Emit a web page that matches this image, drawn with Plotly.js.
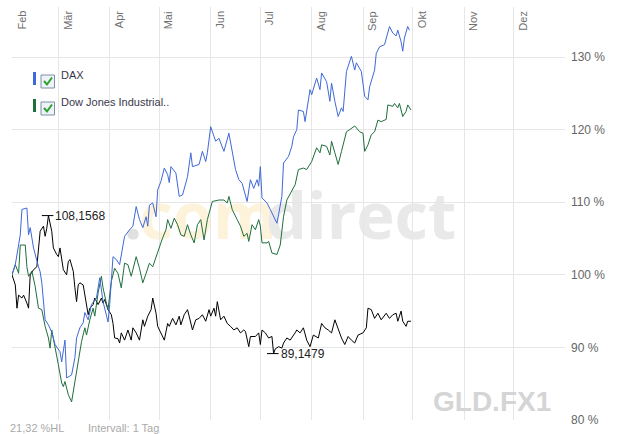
<!DOCTYPE html>
<html>
<head>
<meta charset="utf-8">
<script src="https://cdn.plot.ly/plotly-3.0.1.min.js"></script>
<style>html,body{margin:0;padding:0;background:#fff;}#chart{width:625px;height:434px;}</style>
</head>
<body>
<div id="chart"></div>
<script>
// ---------- DATA ----------
const monthLabels = ["Feb","Mär","Apr","Mai","Jun","Jul","Aug","Sep","Okt","Nov","Dez"];
const monthStarts = ["2003-02-01","2003-03-01","2003-04-01","2003-05-01","2003-06-01","2003-07-01","2003-08-01","2003-09-01","2003-10-01","2003-11-01","2003-12-01"];
const yTicks = [80, 90, 100, 110, 120, 130];

const daxDates = ["2003-02-01","2003-02-03","2003-02-06","2003-02-07","2003-02-10","2003-02-11","2003-02-12","2003-02-14","2003-02-17","2003-02-18","2003-02-19","2003-02-21","2003-02-23","2003-02-25","2003-02-27","2003-03-02","2003-03-03","2003-03-05","2003-03-06","2003-03-09","2003-03-11","2003-03-12","2003-03-14","2003-03-16","2003-03-17","2003-03-19","2003-03-21","2003-03-24","2003-03-26","2003-03-28","2003-03-31","2003-04-01","2003-04-03","2003-04-05","2003-04-07","2003-04-09","2003-04-10","2003-04-13","2003-04-15","2003-04-17","2003-04-19","2003-04-21","2003-04-23","2003-04-24","2003-04-25","2003-04-27","2003-04-29","2003-04-30","2003-05-02","2003-05-04","2003-05-06","2003-05-07","2003-05-08","2003-05-11","2003-05-13","2003-05-15","2003-05-18","2003-05-20","2003-05-21","2003-05-25","2003-05-27","2003-05-29","2003-05-30","2003-06-01","2003-06-04","2003-06-06","2003-06-09","2003-06-12","2003-06-14","2003-06-16","2003-06-18","2003-06-20","2003-06-23","2003-06-25","2003-06-27","2003-06-29","2003-06-30","2003-07-01","2003-07-02","2003-07-05","2003-07-07","2003-07-09","2003-07-11","2003-07-12","2003-07-14","2003-07-15","2003-07-18","2003-07-20","2003-07-21","2003-07-23","2003-07-24","2003-07-27","2003-07-28","2003-07-31","2003-08-01","2003-08-04","2003-08-06","2003-08-07","2003-08-10","2003-08-12","2003-08-13","2003-08-15","2003-08-17","2003-08-19","2003-08-20","2003-08-22","2003-08-25","2003-08-27","2003-08-28","2003-08-31","2003-09-02","2003-09-04","2003-09-05","2003-09-08","2003-09-09","2003-09-11","2003-09-14","2003-09-17","2003-09-19","2003-09-21","2003-09-22","2003-09-24","2003-09-25","2003-09-26","2003-09-28","2003-09-29"];
const daxValues = [100,101.4,105.5,109,109.2,105.5,106.5,103.7,101.1,100.4,98.9,93.8,93.1,92.1,90.4,89.4,88,91,85.8,86.2,88.6,91.3,92.7,93.4,94.8,93.8,95.9,96.8,99.6,96.3,93.5,95.9,102.5,102.1,101.4,104.4,105.3,106.2,106.7,109.4,107.6,106.5,108,106.7,109.6,109.9,108,111.7,112.9,114.7,113.8,112.7,114.9,114,110.8,111,113.5,116.8,114.9,115.2,117,115.6,116.8,120.4,118.4,118.8,117,119.5,116.8,114.5,113.1,112.6,110.1,113.1,111.9,113.1,112.2,114.9,110.6,109.9,109,108,107.1,108.3,110.8,115.4,116.3,117.7,119,120,122.7,122.5,121.1,125.5,124.8,127.1,125.5,127.8,126.6,123.9,126.4,123.9,121.8,123,122.5,128,130.1,128.2,129.2,128,124.6,124.1,125.9,128.2,130.5,131.4,131.7,134.2,133.3,132.9,133.7,132.1,130.8,132.6,134.2,133.7];

const dowDates = ["2003-02-01","2003-02-03","2003-02-05","2003-02-06","2003-02-09","2003-02-10","2003-02-11","2003-02-13","2003-02-15","2003-02-17","2003-02-19","2003-02-21","2003-02-23","2003-02-24","2003-02-25","2003-02-27","2003-03-01","2003-03-03","2003-03-04","2003-03-05","2003-03-07","2003-03-09","2003-03-11","2003-03-13","2003-03-15","2003-03-17","2003-03-18","2003-03-20","2003-03-22","2003-03-23","2003-03-25","2003-03-27","2003-03-28","2003-03-30","2003-03-31","2003-04-02","2003-04-04","2003-04-06","2003-04-08","2003-04-10","2003-04-12","2003-04-14","2003-04-17","2003-04-19","2003-04-21","2003-04-23","2003-04-25","2003-04-27","2003-04-29","2003-05-01","2003-05-03","2003-05-05","2003-05-06","2003-05-08","2003-05-10","2003-05-12","2003-05-14","2003-05-16","2003-05-18","2003-05-20","2003-05-22","2003-05-24","2003-05-26","2003-05-28","2003-05-30","2003-06-02","2003-06-06","2003-06-09","2003-06-11","2003-06-12","2003-06-14","2003-06-17","2003-06-19","2003-06-21","2003-06-23","2003-06-24","2003-06-26","2003-06-28","2003-06-30","2003-07-01","2003-07-02","2003-07-05","2003-07-06","2003-07-08","2003-07-10","2003-07-11","2003-07-13","2003-07-15","2003-07-17","2003-07-20","2003-07-22","2003-07-24","2003-07-27","2003-07-29","2003-08-01","2003-08-04","2003-08-06","2003-08-07","2003-08-10","2003-08-12","2003-08-13","2003-08-15","2003-08-17","2003-08-19","2003-08-22","2003-08-24","2003-08-27","2003-08-30","2003-09-01","2003-09-02","2003-09-04","2003-09-06","2003-09-08","2003-09-10","2003-09-12","2003-09-15","2003-09-16","2003-09-19","2003-09-20","2003-09-22","2003-09-23","2003-09-25","2003-09-27","2003-09-28","2003-09-30"];
const dowValues = [100,101.4,100.2,104.1,104.1,101.1,99.8,100.5,98.4,95.4,95.2,92.9,91.3,89.9,92.4,89.7,87.6,85.1,84.6,85.3,83.5,82.5,85.3,88.5,90.8,92.7,91.7,93.8,95.4,94.3,97.5,99.8,98.2,96.1,95.2,99.1,100.9,100.2,98.2,101.6,101.4,99.8,102.5,100.9,98.9,100.2,101.6,101.1,102.5,103.7,105.1,106.2,107.6,106.4,107.8,106.9,105.5,105.3,106.9,105.5,104.4,106.9,107.6,104.8,107.6,110.1,110.3,110.3,109.9,110.8,109,107.6,106.7,105.3,105.7,104.6,106.9,106.2,107.6,106.7,104.4,104.4,104.6,103,102.8,102.8,104.1,108,110.3,111.7,112.4,114.5,114.7,114.5,115.6,117.5,116.8,117.9,117.7,116.5,118.4,116.8,115.2,117,119.7,120,120.5,119.7,119.5,117,117.9,119.3,119.7,121.3,121.1,121.4,123.4,123.2,123.6,123,123.6,121.8,122.5,123.4,122.7];

const gldDates = ["2003-02-01","2003-02-03","2003-02-04","2003-02-05","2003-02-07","2003-02-08","2003-02-10","2003-02-11","2003-02-12","2003-02-14","2003-02-16","2003-02-17","2003-02-18","2003-02-20","2003-02-21","2003-02-22","2003-02-23","2003-02-25","2003-02-26","2003-02-28","2003-03-01","2003-03-02","2003-03-04","2003-03-06","2003-03-07","2003-03-08","2003-03-10","2003-03-11","2003-03-12","2003-03-13","2003-03-14","2003-03-16","2003-03-17","2003-03-18","2003-03-19","2003-03-20","2003-03-22","2003-03-23","2003-03-25","2003-03-27","2003-03-28","2003-03-29","2003-03-31","2003-04-02","2003-04-03","2003-04-04","2003-04-06","2003-04-07","2003-04-08","2003-04-10","2003-04-12","2003-04-14","2003-04-15","2003-04-17","2003-04-19","2003-04-21","2003-04-22","2003-04-24","2003-04-26","2003-04-27","2003-04-29","2003-04-30","2003-05-02","2003-05-04","2003-05-06","2003-05-07","2003-05-09","2003-05-11","2003-05-13","2003-05-14","2003-05-16","2003-05-18","2003-05-19","2003-05-21","2003-05-23","2003-05-25","2003-05-27","2003-05-29","2003-05-31","2003-06-01","2003-06-03","2003-06-04","2003-06-05","2003-06-07","2003-06-09","2003-06-11","2003-06-13","2003-06-15","2003-06-17","2003-06-19","2003-06-21","2003-06-22","2003-06-24","2003-06-25","2003-06-28","2003-06-30","2003-07-01","2003-07-02","2003-07-04","2003-07-06","2003-07-08","2003-07-09","2003-07-10","2003-07-12","2003-07-14","2003-07-15","2003-07-17","2003-07-19","2003-07-22","2003-07-23","2003-07-25","2003-07-27","2003-07-29","2003-07-31","2003-08-02","2003-08-05","2003-08-07","2003-08-09","2003-08-11","2003-08-13","2003-08-15","2003-08-17","2003-08-19","2003-08-21","2003-08-23","2003-08-25","2003-08-27","2003-08-29","2003-09-01","2003-09-03","2003-09-04","2003-09-06","2003-09-08","2003-09-10","2003-09-12","2003-09-15","2003-09-17","2003-09-19","2003-09-21","2003-09-22","2003-09-24","2003-09-25","2003-09-27","2003-09-28","2003-09-30"];
const gldValues = [100,98.6,95.4,97.2,96.8,97.2,96.1,95.4,100,100.7,101.1,103.7,106,106.7,105.3,106.4,108.1568,106,103.7,102.8,102.5,103.7,100.7,100,101.8,102.1,100.5,98.2,96.3,98.6,98.9,98.6,97.2,95.6,94.5,95.4,95.9,96.8,95.9,96.8,96.1,96.6,95.2,94.5,93.3,91.3,91.2,90.6,92,91,92.4,91,92.7,92,91,93.8,92.9,94.3,95.2,96.8,94.7,92.9,92,91,93.3,92.9,94,93.1,94.3,93.1,94.5,95.2,94.3,92.4,93.8,94,94.5,93.6,95.2,94.3,95.4,94.3,96.3,93.8,94.3,93.3,92.9,92.4,92.7,92,92.4,92.2,90.1,91.5,91.5,92,90.4,92.4,92,91.3,91.5,89.1479,89.8,90.1,89.9,90.6,91.3,91,92,92.4,92,92.7,91,90.1,91.7,91.3,93.3,92.7,92.4,92,93.8,92.4,91.3,90.4,91.5,91,90.6,91.7,92,92.7,95.4,95.2,94,94.7,93.8,94.7,94,94.5,94.7,93.6,95,93.6,92.9,93.6,93.6];

// ---------- LAYOUT HELPERS (pixel -> paper) ----------
const M = {l:12, r:60, t:7, b:14};
const PW = 625 - M.l - M.r, PH = 434 - M.t - M.b;
const PX = x => (x - M.l) / PW;
const PY = y => (434 - M.b - y) / PH;

const traces = [
  {x: gldDates, y: gldValues, type:'scatter', mode:'lines', name:'GLD.FX1', line:{color:'#000000', width:1}},
  {x: dowDates, y: dowValues, type:'scatter', mode:'lines', name:'Dow Jones Industrial..', line:{color:'#1f6e3c', width:1}},
  {x: daxDates, y: daxValues, type:'scatter', mode:'lines', name:'DAX', line:{color:'#3f68d8', width:1}}
];

const annotations = [];
const shapes = [];

// month labels (rotated, inside top)
monthLabels.forEach((m, i) => {
  annotations.push({x: monthStarts[i], xref:'x', y: PY(9), yref:'paper', text: m, showarrow:false,
    textangle:-90, xanchor:'left', yanchor:'top', xshift:1,
    font:{family:'Liberation Sans, Arial, sans-serif', size:11, color:'#707070'}});
});

// max / min labels for gold
function fmt(v){ return v.toFixed(4).replace('.', ','); }
const gMax = Math.max(...gldValues), gMin = Math.min(...gldValues);
const iMax = gldValues.indexOf(gMax), iMin = gldValues.indexOf(gMin);
const DAY = 86400000;
[[iMax, gMax],[iMin, gMin]].forEach(([i, v]) => {
  const t = new Date(gldDates[i] + 'T00:00:00Z').getTime();
  shapes.push({type:'line', xref:'x', yref:'y', x0: new Date(t - 3.2*DAY).toISOString().slice(0,10), x1: new Date(t + 3.2*DAY).toISOString().slice(0,10), y0: v, y1: v, line:{color:'#000', width:1}});
  annotations.push({x: gldDates[i], xref:'x', y: v, yref:'y', text: fmt(v), showarrow:false, xanchor:'left', yanchor:'middle', xshift:5,
    font:{family:'Liberation Sans, Arial, sans-serif', size:12, color:'#222222'}});
});

// legend (custom)
const legendItems = [{name:'DAX', color:'#3f68d8', y:78}, {name:'Dow Jones Industrial..', color:'#1f6e3c', y:105}];
legendItems.forEach(it => {
  shapes.push({type:'line', xref:'paper', yref:'paper', x0:PX(34.5), x1:PX(34.5), y0:PY(it.y-6), y1:PY(it.y+7), line:{color:it.color, width:3}});
  shapes.push({type:'rect', xref:'paper', yref:'paper', x0:PX(41), x1:PX(54.5), y0:PY(it.y-3), y1:PY(it.y+10), line:{color:'#7d90a6', width:1}, fillcolor:'#eef3f8'});
  shapes.push({type:'path', xref:'paper', yref:'paper', path:`M ${PX(44)} ${PY(it.y+3)} L ${PX(47)} ${PY(it.y+6.5)} L ${PX(52)} ${PY(it.y-0.5)}`, line:{color:'#2ea02e', width:2}});
  annotations.push({x:PX(59), xref:'paper', y:PY(it.y-3), yref:'paper', text: it.name, showarrow:false, xanchor:'left', yanchor:'middle',
    font:{family:'Liberation Sans, Arial, sans-serif', size:11, color:'#38384a'}});
});

// watermark (below traces)
const wm = [
  {t:'.', c:'#e0e0e0', x0:124, x1:142},
  {t:'com', c:'#fdf2da', x0:143, x1:273},
  {t:'direct', c:'#e9e9e9', x0:271, x1:451}
];
wm.forEach(w => {
  shapes.push({type:'rect', xref:'paper', yref:'paper', layer:'between', x0:PX(w.x0), x1:PX(w.x1), y0:PY(258), y1:PY(178),
    line:{width:0}, fillcolor:'rgba(0,0,0,0)',
    label:{text:w.t, textposition:'middle center', font:{family:'Open Sans, sans-serif', size:65, color:w.c, weight:700}}});
});

// GLD.FX1 big label
annotations.push({x:PX(553), xref:'paper', y:PY(401), yref:'paper', text:'GLD.FX1', showarrow:false, xanchor:'right', yanchor:'middle',
  font:{family:'Liberation Sans, Arial, sans-serif', size:28, color:'#d5d5d5', weight:700}});

// bottom info
annotations.push({x:PX(8), xref:'paper', y:PY(428), yref:'paper', text:'21,32 %HL', showarrow:false, xanchor:'left', yanchor:'middle',
  font:{family:'Liberation Sans, Arial, sans-serif', size:11, color:'#aaaaaa'}});
annotations.push({x:PX(86), xref:'paper', y:PY(428), yref:'paper', text:'Intervall: 1 Tag', showarrow:false, xanchor:'left', yanchor:'middle',
  font:{family:'Liberation Sans, Arial, sans-serif', size:11, color:'#aaaaaa'}});

const layout = {
  width:625, height:434,
  margin:{l:M.l, r:M.r, t:M.t, b:M.b, pad:0},
  paper_bgcolor:'#ffffff', plot_bgcolor:'#ffffff',
  showlegend:false,
  xaxis:{type:'date', range:['2003-02-01','2004-01-01'], tickvals: monthStarts.concat(['2004-01-01']), showticklabels:false,
    showgrid:true, gridcolor:'#e6e6e6', gridwidth:1, zeroline:false, showline:false, ticks:''},
  yaxis:{side:'right', range:[80, 80 + PH/72.6*10], tickvals: yTicks, ticktext: yTicks.map(v => v + ' %'),
    showgrid:true, gridcolor:'#e6e6e6', gridwidth:1, zeroline:false, showline:false, ticks:'', ticklabelstandoff:5,
    tickfont:{family:'Liberation Sans, Arial, sans-serif', size:12, color:'#666666'}},
  annotations, shapes
};

Plotly.newPlot('chart', traces, layout, {staticPlot:true, displayModeBar:false});
</script>
</body>
</html>
